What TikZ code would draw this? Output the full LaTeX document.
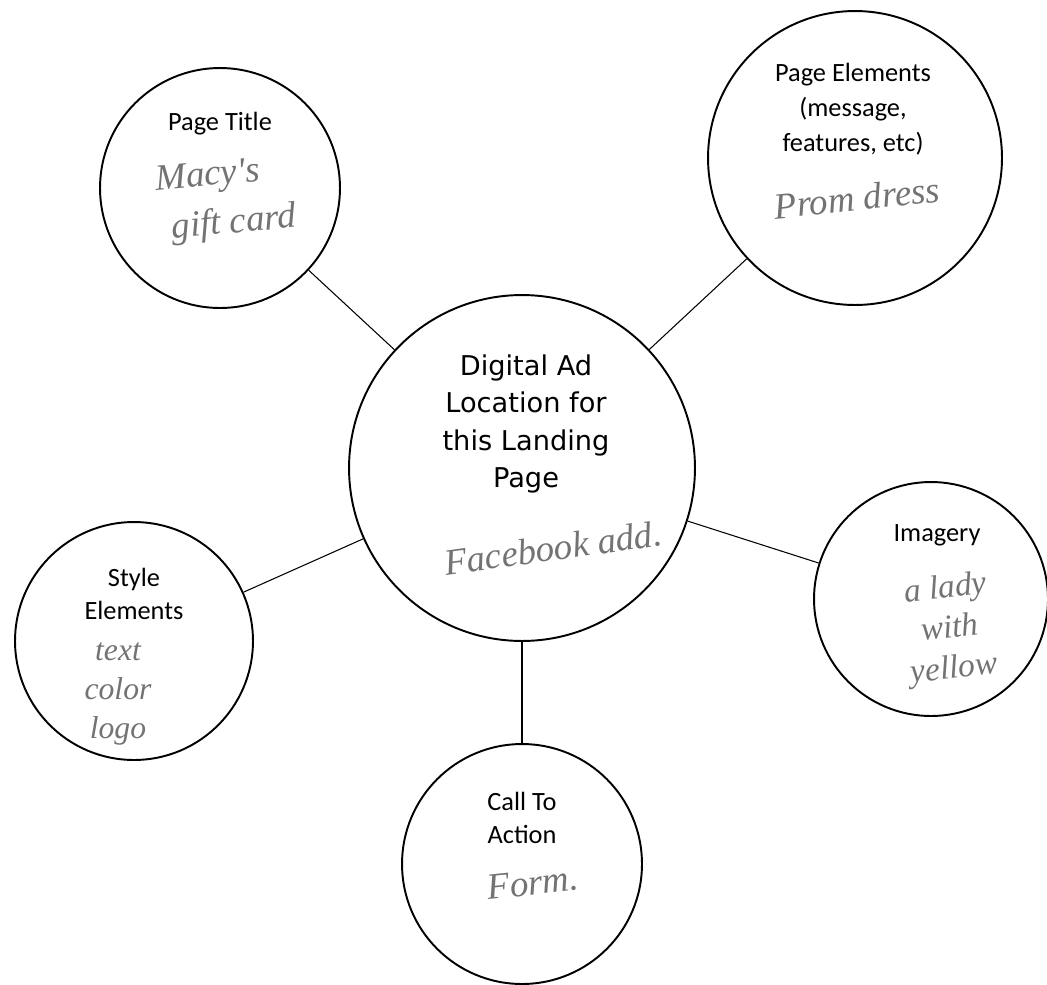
\documentclass[tikz,border=0pt]{standalone}
\usepackage{fontspec}
\setmainfont{Carlito}
\newfontfamily\hubfont{DejaVu Sans}
\newfontfamily\handfont{Liberation Serif}
\begin{document}
\begin{tikzpicture}[x=0.02cm, y=-0.02cm,
    bubble/.style={draw, circle, line width=1.1pt, inner sep=0pt},
    link/.style={draw, line width=0.6pt},
    printed/.style={align=center, font=\fontsize{15}{19}\selectfont},
    hand/.style={align=center, text=black!55, font=\handfont\itshape\fontsize{21}{24}\selectfont}]
    \useasboundingbox (0,0) rectangle (1047,984);

    \node[bubble, minimum size=4.8cm] (title) at (220,188) {};
    \node[bubble, minimum size=5.88cm] (elements) at (855,158) {};
    \node[bubble, minimum size=6.92cm] (hub) at (522,468) {};
    \node[bubble, minimum size=4.68cm] (imagery) at (931,599) {};
    \node[bubble, minimum size=4.76cm] (style) at (134,641) {};
    \node[bubble, minimum size=4.8cm] (action) at (522,864) {};

    \draw[link] (title) -- (hub);
    \draw[link] (elements) -- (hub);
    \draw[link] (imagery) -- (hub);
    \draw[link] (style) -- (hub);
    \draw[link] (action) -- (hub);

    \node[printed] (titlelbl) at (220,124) {Page Title};
    \node[printed, font=\fontsize{15}{20}\selectfont] (elementslbl) at (853,109)
      {Page Elements\\(message,\\features, etc)};
    \node[printed, font=\hubfont\fontsize{15.5}{21.3}\selectfont] (hublbl) at (526,424)
      {Digital Ad\\Location for\\this Landing\\Page};
    \node[printed] (imagerylbl) at (937,535) {Imagery};
    \node[printed] (stylelbl) at (134,594) {Style\\Elements};
    \node[printed] (actionlbl) at (522,818) {Call To\\Action};

    \node[hand, rotate=5, font=\handfont\itshape\fontsize{21}{28}\selectfont] (titlehand) at (210,202) {Macy's\\\hspace*{1.2em}gift card};
    \node[hand, rotate=6] (elementshand) at (857,198) {Prom dress};
    \node[hand, rotate=8] (hubhand) at (553,548) {Facebook add.};
    \node[hand, rotate=6, font=\handfont\itshape\fontsize{19}{23}\selectfont] (imageryhand) at (950,630) {a lady\\with\\yellow};
    \node[hand, font=\handfont\itshape\fontsize{18}{22}\selectfont] (stylehand) at (118,694) {text\\color\\logo};
    \node[hand, rotate=6] (actionhand) at (533,883) {Form.};
\end{tikzpicture}
\end{document}
